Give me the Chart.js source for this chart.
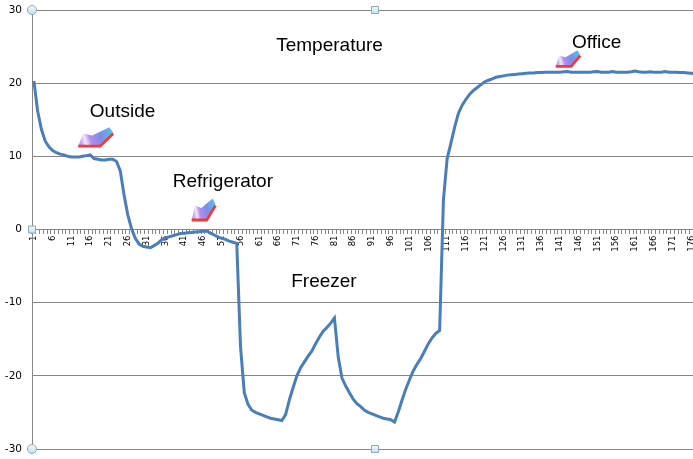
<!DOCTYPE html>
<html>
<head>
<meta charset="utf-8">
<title>Temperature</title>
<script src="https://cdn.jsdelivr.net/npm/chart.js@4.4.1/dist/chart.umd.min.js"></script>
<style>
  html, body { margin: 0; padding: 0; overflow: hidden; background: #fff; }
  #wrap { width: 697px; height: 459px; }
</style>
</head>
<body>
<div id="wrap"><canvas id="chart" width="697" height="459"></canvas></div>
<script>
// one reading per sample, numbered 1..177
const categories = Array.from({ length: 177 }, (_, i) => String(i + 1));

const temperatures = [
  20.3, 16.2, 13.7, 12.1, 11.3, 10.8, 10.5, 10.3, 10.2, 10.0,
  9.9, 9.9, 9.9, 10.0, 10.1, 10.2, 9.7, 9.6, 9.5, 9.5,
  9.6, 9.6, 9.3, 8.0, 4.7, 2.0, 0.1, -1.2, -2.0, -2.3,
  -2.4, -2.5, -2.2, -1.9, -1.4, -1.15, -1.0, -0.85, -0.7, -0.55,
  -0.5, -0.45, -0.4, -0.35, -0.3, -0.25, -0.2, -0.5, -0.75, -1.0,
  -1.2, -1.35, -1.6, -1.75, -1.9, -16.0, -22.3, -23.9, -24.7, -25.0,
  -25.2, -25.4, -25.6, -25.8, -25.9, -26.0, -26.1, -25.3, -23.3, -21.6,
  -20.0, -18.9, -18.1, -17.3, -16.6, -15.6, -14.7, -13.9, -13.4, -12.8,
  -12.1, -17.4, -20.3, -21.4, -22.3, -23.2, -23.8, -24.2, -24.7, -25.0,
  -25.2, -25.4, -25.6, -25.8, -25.9, -26.0, -26.3, -24.9, -23.3, -21.8,
  -20.5, -19.3, -18.4, -17.6, -16.6, -15.6, -14.8, -14.2, -13.8, 4.0,
  9.7, 11.8, 14.0, 15.9, 17.0, 17.8, 18.5, 19.0, 19.4, 19.8,
  20.2, 20.4, 20.6, 20.8, 20.9, 21.0, 21.1, 21.15, 21.2, 21.25,
  21.3, 21.35, 21.4, 21.4, 21.45, 21.45, 21.5, 21.5, 21.5, 21.5,
  21.5, 21.55, 21.6, 21.5, 21.5, 21.5, 21.5, 21.5, 21.5, 21.55,
  21.6, 21.5, 21.5, 21.5, 21.6, 21.5, 21.5, 21.5, 21.5, 21.55,
  21.65, 21.55, 21.5, 21.5, 21.55, 21.5, 21.5, 21.5, 21.6, 21.5,
  21.5, 21.5, 21.45, 21.45, 21.4, 21.35, 21.3
];

const yTicks = [-30, -20, -10, 0, 10, 20, 30];

// text notes, anchored to (sample number, temperature)
const noteTexts = ['Temperature', 'Outside', 'Refrigerator', 'Freezer', 'Office'];
const noteSamples = [79.7, 24.6, 51.3, 78.2, 150.8];
const noteTemps = [25.1, 16.1, 6.5, -7.1, 25.5];

// arrow tips, anchored the same way
const arrowSamples = [12.8, 43.0, 139.9];
const arrowTemps = [11.4, 1.3, 22.3];
const arrowScales = [[1, 1.05], [0.68, 1.2], [0.7, 0.9]];

const gridGray = '#868686';
const lineBlue = '#4a7ebb';

function drawArrow(ctx, x, y, sx, sy) {
  ctx.save();
  ctx.translate(x, y);
  ctx.scale(sx, sy);
  const g = ctx.createLinearGradient(35, -15, 2, -4);
  g.addColorStop(0, '#4cc8f0');
  g.addColorStop(0.4, '#7f8ce8');
  g.addColorStop(0.7, '#b48cee');
  g.addColorStop(0.85, '#f1e8fb');
  g.addColorStop(1, '#c29bf0');
  ctx.beginPath();
  ctx.moveTo(0, 0);
  ctx.lineTo(5, -12);
  ctx.lineTo(14, -10);
  ctx.lineTo(31, -18);
  ctx.lineTo(35, -13);
  ctx.lineTo(22, -2);
  ctx.lineTo(22, 0);
  ctx.closePath();
  ctx.fillStyle = g;
  ctx.fill();
  ctx.beginPath();
  ctx.moveTo(0, 0);
  ctx.lineTo(22, 0);
  ctx.lineTo(35, -12);
  ctx.restore();
  ctx.strokeStyle = '#f03a3a';
  ctx.lineWidth = 2.8;
  ctx.stroke();
}

function drawHandle(ctx, x, y, round) {
  ctx.save();
  const g = ctx.createLinearGradient(x, y - 4, x, y + 4);
  g.addColorStop(0, '#f4fafd');
  g.addColorStop(1, '#c3dfea');
  ctx.fillStyle = g;
  ctx.strokeStyle = '#8fa9ba';
  ctx.lineWidth = 1;
  ctx.beginPath();
  if (round) ctx.arc(x, y, 4.5, 0, Math.PI * 2);
  else ctx.rect(x - 3.5, y - 3.5, 7, 7);
  ctx.fill();
  ctx.stroke();
  ctx.restore();
}

const notesPlugin = {
  id: 'notes',
  afterDraw(chart) {
    const ctx = chart.ctx;
    const xs = chart.scales.x, ys = chart.scales.y;
    const area = chart.chartArea;

    arrowSamples.forEach((s, i) => {
      drawArrow(ctx, xs.getPixelForValue(s - 1), ys.getPixelForValue(arrowTemps[i]),
        arrowScales[i][0], arrowScales[i][1]);
    });

    ctx.save();
    ctx.fillStyle = '#000';
    ctx.font = '19px "Liberation Sans", Arial, sans-serif';
    ctx.textAlign = 'center';
    ctx.textBaseline = 'middle';
    noteTexts.forEach((t, i) => {
      ctx.fillText(t, xs.getPixelForValue(noteSamples[i] - 1), ys.getPixelForValue(noteTemps[i]));
    });
    ctx.restore();

    // selection handles of the plot area
    const midX = area.left + 343;
    drawHandle(ctx, area.left, area.top, true);
    drawHandle(ctx, area.left, area.bottom, true);
    drawHandle(ctx, area.left, (area.top + area.bottom) / 2, false);
    drawHandle(ctx, midX, area.top, false);
    drawHandle(ctx, midX, area.bottom, false);
  }
};

new Chart(document.getElementById('chart'), {
  type: 'line',
  data: {
    labels: categories,
    datasets: [{
      label: 'Temperature',
      data: temperatures,
      borderColor: lineBlue,
      borderWidth: 3,
      pointRadius: 0,
      tension: 0,
      fill: false
    }]
  },
  options: {
    responsive: false,
    animation: false,
    devicePixelRatio: 1,
    layout: { padding: { top: 10, bottom: 10, left: 0, right: 0 } },
    plugins: { legend: { display: false }, tooltip: { enabled: false } },
    scales: {
      x: {
        type: 'category',
        offset: true,
        position: { y: 0 },
        border: { color: gridGray, width: 1 },
        grid: { drawOnChartArea: false, drawTicks: true, tickLength: 4, color: gridGray, offset: true },
        ticks: {
          autoSkip: false,
          minRotation: 90,
          maxRotation: 90,
          padding: 2,
          color: '#000',
          font: { family: 'DejaVu Sans', size: 8.5 },
          callback: function (val, idx) { return idx % 5 === 0 ? this.getLabelForValue(val) : ''; }
        },
        afterFit: s => { s.paddingLeft = 0; s.paddingRight = 0; }
      },
      y: {
        min: yTicks[0],
        max: yTicks[yTicks.length - 1],
        border: { color: gridGray, width: 1 },
        grid: { color: gridGray, drawTicks: false },
        ticks: {
          stepSize: yTicks[1] - yTicks[0],
          padding: 10,
          color: '#000',
          font: { family: 'DejaVu Sans', size: 10.5 }
        },
        afterFit: s => { s.width = 32; s.paddingTop = 0; s.paddingBottom = 0; }
      }
    }
  },
  plugins: [notesPlugin]
});
</script>
</body>
</html>
